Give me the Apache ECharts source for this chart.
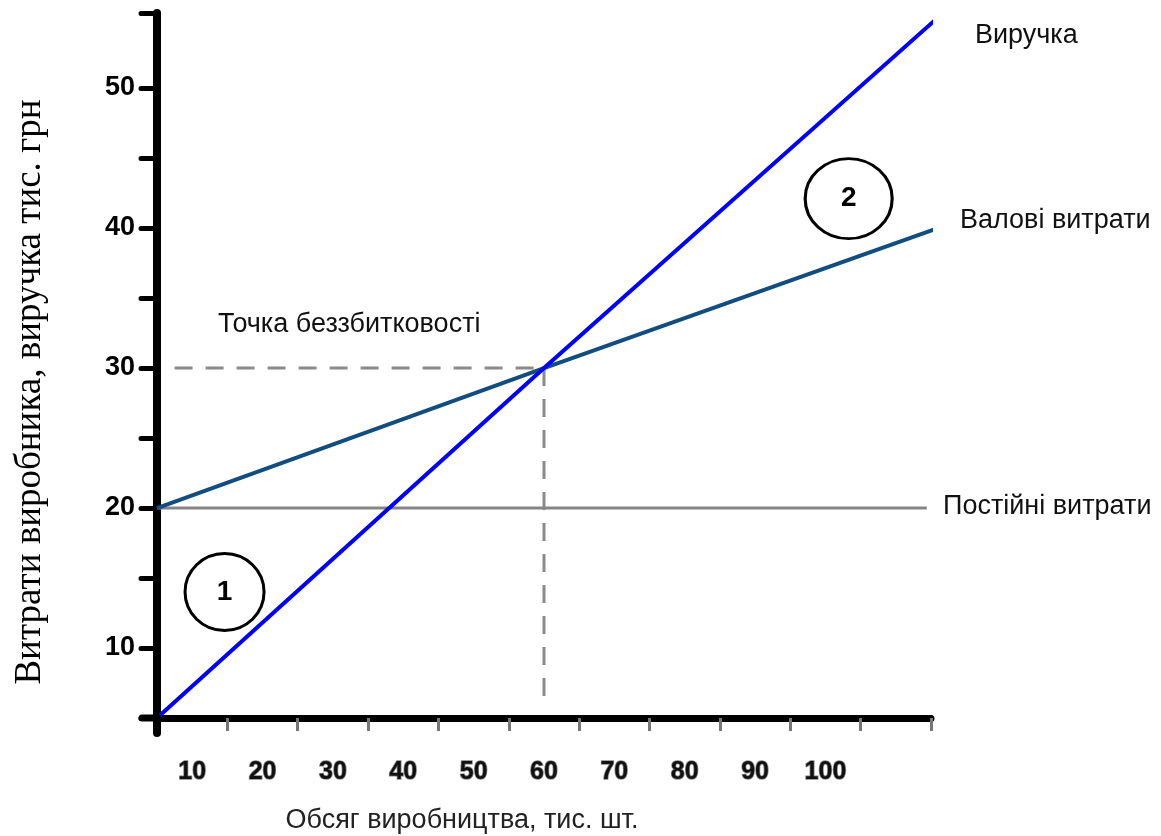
<!DOCTYPE html>
<html>
<head>
<meta charset="utf-8">
<script src="https://cdn.jsdelivr.net/npm/echarts@6/dist/echarts.min.js"></script>
<style>
html,body{margin:0;padding:0;background:#fff;}
#chart{width:1161px;height:836px;}
</style>
</head>
<body>
<div id="chart"></div>
<script>
// ---- data ----
const xTickLabels = [10, 20, 30, 40, 50, 60, 70, 80, 90, 100];
const xTickPositions = [5, 15, 25, 35, 45, 55, 65, 75, 85, 95, 105, 115];
const yTickLabels = [10, 20, 30, 40, 50];
const yTickPositions = [5, 10, 15, 20, 25, 30, 35, 40, 45, 50, 55.36];
const revenue = [[5, 5], [60, 30], [115.9, 55]];          // Виручка
const grossCosts = [[5, 20], [60, 30], [116.6, 40.1]];    // Валові витрати
const fixedCosts = [[5, 20], [114.4, 20]];                // Постійні витрати
const breakEvenH = [[7.5, 30], [60, 30]];
const breakEvenV = [[60, 30], [60, 6.5]];
const zoneMarks = [[14.6, 14.0, '1'], [103.3, 42.1, '2']];
const yAxisName = 'Витрати виробника, виручка тис. грн';
const xAxisName = 'Обсяг виробництва, тис. шт.';

const chart = echarts.init(document.getElementById('chart'), null, {renderer: 'canvas'});

const labelFont = {fontFamily: 'Liberation Sans, Arial, sans-serif', fontSize: 27, fill: '#111'};

const option = {
  animation: false,
  backgroundColor: '#fff',
  grid: {left: 157, right: 230, top: 13, bottom: 118, containLabel: false},
  xAxis: {
    type: 'value', min: 5, max: 115,
    axisLine: {show: true, lineStyle: {color: '#000', width: 7}},
    axisTick: {show: true, customValues: xTickPositions, length: 13, lineStyle: {color: '#777', width: 3}},
    axisLabel: {customValues: xTickLabels, margin: 42, fontFamily: 'Liberation Sans, Arial, sans-serif',
      fontWeight: 'bold', fontSize: 25, color: '#111', textBorderColor: '#888', textBorderWidth: 1.5},
    splitLine: {show: false}
  },
  yAxis: {
    type: 'value', min: 5, max: 55.36,
    axisLine: {show: true, lineStyle: {color: '#000', width: 8}},
    axisTick: {show: true, customValues: yTickPositions, length: 16, lineStyle: {color: '#000', width: 5, cap: 'round'}},
    axisLabel: {customValues: yTickLabels, margin: 22, fontFamily: 'Liberation Sans, Arial, sans-serif',
      fontWeight: 'bold', fontSize: 27, color: '#000'},
    splitLine: {show: false}
  },
  series: [
    {type: 'line', name: 'Постійні витрати', data: fixedCosts, symbol: 'none', clip: false, z: 3,
      lineStyle: {color: '#858585', width: 3}},
    {type: 'line', name: 'dashH', data: breakEvenH, symbol: 'none', clip: false, z: 2,
      lineStyle: {color: '#8a8a8a', width: 3, type: [18, 13]}},
    {type: 'line', name: 'dashV', data: breakEvenV, symbol: 'none', clip: false, z: 2,
      lineStyle: {color: '#8a8a8a', width: 3, type: [18, 13]}},
    {type: 'line', name: 'Валові витрати', data: grossCosts, symbol: 'none', clip: false, z: 4,
      lineStyle: {color: '#114d7e', width: 4}},
    {type: 'line', name: 'Виручка', data: revenue, symbol: 'none', clip: false, z: 5,
      lineStyle: {color: '#0000ff', width: 4}},
    {type: 'scatter', name: 'zones', data: zoneMarks.map(d => ({value: [d[0], d[1]], name: d[2]})),
      symbol: 'circle', symbolSize: function (v, p) { return p.dataIndex === 0 ? [79, 77] : [87, 80]; },
      itemStyle: {color: 'rgba(255,255,255,0)', borderColor: '#000', borderWidth: 3, opacity: 1},
      label: {show: true, position: 'inside', formatter: p => p.name, color: '#000',
        fontFamily: 'Liberation Sans, Arial, sans-serif', fontWeight: 'bold', fontSize: 28},
      z: 6}
  ],
  graphic: [
    {type: 'text', left: 975, top: 22, style: Object.assign({text: 'Виручка'}, labelFont)},
    {type: 'text', left: 960, top: 207, style: Object.assign({text: 'Валові витрати'}, labelFont)},
    {type: 'text', left: 943, top: 493, style: Object.assign({text: 'Постійні витрати'}, labelFont)},
    {type: 'text', left: 218, top: 311, style: Object.assign({text: 'Точка беззбитковості'}, labelFont)},
    {type: 'text', x: 30, y: 392, rotation: Math.PI / 2,
      style: {text: yAxisName, fontFamily: 'Liberation Serif, Times New Roman, serif', fontSize: 37,
        fill: '#000', align: 'center', verticalAlign: 'middle'}},
    {type: 'text', x: 462, y: 821,
      style: {text: xAxisName, fontFamily: 'Liberation Sans, Arial, sans-serif', fontSize: 27,
        fill: '#222', align: 'center', verticalAlign: 'middle'}}
  ]
};
chart.setOption(option);

// small axis extensions past the origin (axes cross)
const o = chart.convertToPixel({gridIndex: 0}, [5, 5]);
chart.setOption({
  graphic: option.graphic.concat([
    {type: 'line', shape: {x1: o[0], y1: o[1], x2: o[0], y2: o[1] + 15}, style: {stroke: '#000', lineWidth: 8, lineCap: 'round'}, z: 10},
    {type: 'line', shape: {x1: o[0] - 15, y1: o[1], x2: o[0], y2: o[1]}, style: {stroke: '#000', lineWidth: 7, lineCap: 'round'}, z: 10}
  ])
});
</script>
</body>
</html>
